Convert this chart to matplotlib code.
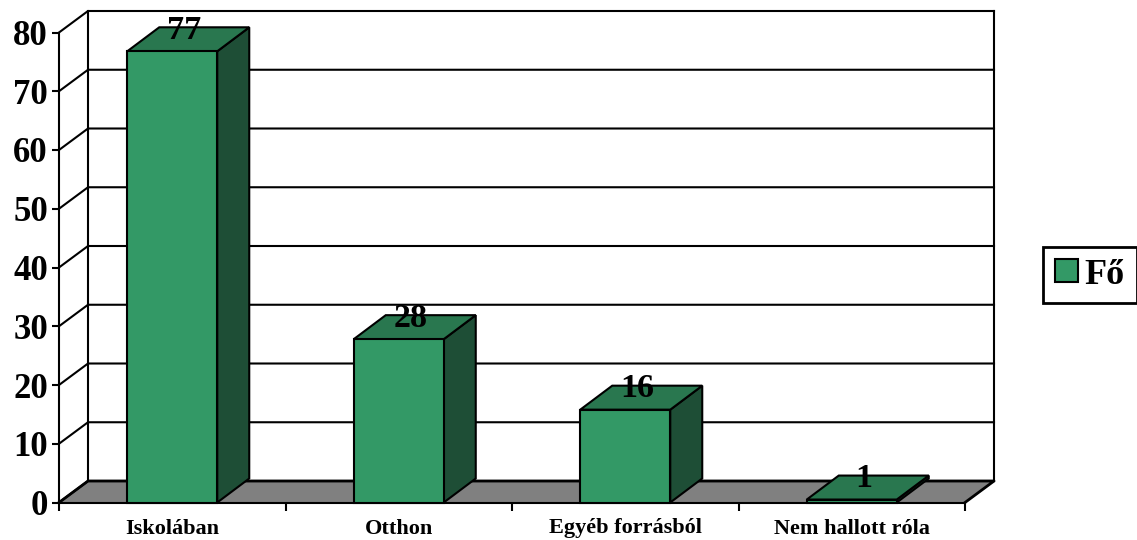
import matplotlib
matplotlib.use("Agg")
import matplotlib.pyplot as plt
from matplotlib.patches import Patch

categories = ["Iskolában", "Otthon", "Egyéb forrásból", "Nem hallott róla"]
labels = [77, 28, 16, 1]
heights = [76.8, 27.8, 15.8, 0.5]
y_ticks = [0, 10, 20, 30, 40, 50, 60, 70, 80]
series_name = "Fő"

W, H = 1137, 540
plt.rcParams["font.family"] = ["Liberation Serif", "DejaVu Serif"]
plt.rcParams["font.weight"] = "bold"

fig = plt.figure(figsize=(W / 100, H / 100), dpi=100)
ax = fig.add_axes([59 / W, 1 - 502.5 / H, 906 / W, 470 / H])
ax.set_xlim(0, 4)
ax.set_ylim(0, 80)

# pixel sizes of the fake 3d depth, turned into data units
px_x = 4 / 906
px_y = 80 / 470
wall_dx = 29 * px_x
wall_dy = 21.5 * px_y
bar_dx = 32 * px_x
bar_dy = 24 * px_y
bar_w = 90 * px_x

# floor
ax.fill([0, 4, 4 + wall_dx, wall_dx], [0, 0, wall_dy, wall_dy], color="#808080", zorder=1, clip_on=False)
ax.plot([0, wall_dx, 4 + wall_dx, 4], [0, wall_dy, wall_dy, 0], color="black", lw=2, zorder=2, clip_on=False)

# back wall and grid
for v in y_ticks:
    ax.plot([0, wall_dx, 4 + wall_dx], [v, v + wall_dy, v + wall_dy], color="black", lw=1.5, zorder=2, clip_on=False)
ax.plot([wall_dx, wall_dx], [wall_dy, 80 + wall_dy], color="black", lw=1.5, zorder=2, clip_on=False)
ax.plot([4 + wall_dx, 4 + wall_dx], [wall_dy, 80 + wall_dy], color="black", lw=1.5, zorder=2, clip_on=False)

# bars
for i, h in enumerate(heights):
    left = i + 0.5 - bar_w / 2
    right = left + bar_w
    ax.fill([right, right + bar_dx, right + bar_dx, right],
            [0, bar_dy, h + bar_dy, h],
            facecolor="#1E4E36", edgecolor="black", lw=1.5, zorder=3, clip_on=False)
    ax.fill([left, right, right + bar_dx, left + bar_dx],
            [h, h, h + bar_dy, h + bar_dy],
            facecolor="#29774F", edgecolor="black", lw=1.5, zorder=3, clip_on=False)
    ax.bar(i + 0.5, h, width=bar_w, facecolor="#339966", edgecolor="black", lw=1.5, zorder=4, clip_on=False)
    ax.text(i + 0.5 + 12 * px_x, h + 21 * px_y, str(labels[i]), ha="center", va="center",
            fontsize=24.5, zorder=5)

ax.spines["top"].set_visible(False)
ax.spines["right"].set_visible(False)
ax.spines["left"].set_linewidth(1.5)
ax.spines["bottom"].set_linewidth(1.5)
ax.set_zorder(2)

ax.set_yticks(y_ticks)
ax.tick_params(axis="y", labelsize=25, length=5, width=1.5, pad=3)
ax.set_xticks([0, 1, 2, 3, 4])
ax.set_xticklabels([])
ax.tick_params(axis="x", length=6, width=1.5)
for i, c in enumerate(categories):
    ax.annotate(c, (i + 0.5, 0), xytext=(0, -26), textcoords="offset pixels", ha="center", va="center",
                fontsize=16, zorder=5)

leg = fig.legend(handles=[Patch(facecolor="#339966", edgecolor="black", lw=1.5, label=series_name)],
                 loc="center", bbox_to_anchor=(1090 / W, 1 - 275 / H), fontsize=26,
                 frameon=True, fancybox=False, edgecolor="black", framealpha=1,
                 handlelength=0.62, handleheight=0.62, handletextpad=0.2, borderpad=0.33, borderaxespad=0)
leg.get_frame().set_linewidth(2)

fig.savefig("out.png", dpi=100)
